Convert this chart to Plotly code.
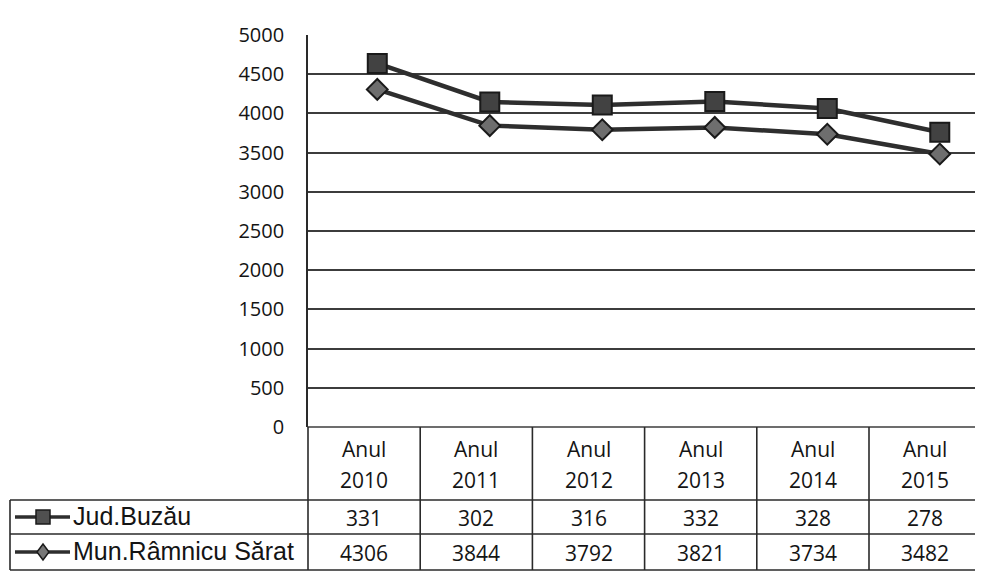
import plotly.graph_objects as go

year_label = "Anul"
years = ["2010", "2011", "2012", "2013", "2014", "2015"]
series_names = ["Jud.Buzău", "Mun.Râmnicu Sărat"]
buzau = [331, 302, 316, 332, 328, 278]
ramnicu = [4306, 3844, 3792, 3821, 3734, 3482]
y_ticks = [0, 500, 1000, 1500, 2000, 2500, 3000, 3500, 4000, 4500, 5000]

OFF = 8                       # page body margin
W, H = 983 - OFF, 578 - OFF   # figure size so it fits the window
# plot area in page coordinates
P_L, P_R, P_T, P_B = 308, 983, 35, 427
L, R, T, B = P_L - OFF, 983 - P_R, P_T - OFF, (578 - P_B)
ph = P_B - P_T
FONT = "Open Sans"
LFONT = "Liberation Sans"
TXT = "#141414"

def py(pix):
    return (P_B - pix) / ph

def px(pix):
    return (pix - P_L) / (P_R - P_L)

n = len(years)
xs = list(range(n))
col_w = 112.2
shift = 13 / col_w

fig = go.Figure()
fig.add_trace(go.Scatter(x=xs, y=ramnicu, stackgroup="s", fill="none", mode="lines+markers",
                         name=series_names[1], line=dict(color="#2e2e2e", width=4.5),
                         marker=dict(symbol="diamond", size=16, color="#6e6e6e",
                                     line=dict(color="#1a1a1a", width=2))))
fig.add_trace(go.Scatter(x=xs, y=buzau, stackgroup="s", fill="none", mode="lines+markers",
                         name=series_names[0], line=dict(color="#2e2e2e", width=4.5),
                         marker=dict(symbol="square", size=19, color="#424242",
                                     line=dict(color="#1a1a1a", width=2))))

shapes = []
annotations = []
rows_y = [500, 534, 570]
line_style = dict(color="#2a2a2a", width=1.6)
# baseline (0 gridline)
shapes.append(dict(type="line", xref="paper", yref="paper", x0=0, x1=1, y0=0, y1=0,
                   line=dict(color="#3c3c3c", width=1.6)))
for i in range(n + 1):
    xpix = P_L + i * col_w
    shapes.append(dict(type="line", xref="paper", yref="paper", x0=px(xpix), x1=px(xpix),
                       y0=0, y1=py(rows_y[2]), line=line_style))
for yy in rows_y:
    shapes.append(dict(type="line", xref="paper", yref="paper", x0=px(10), x1=px(P_L + n * col_w),
                       y0=py(yy), y1=py(yy), line=line_style))
shapes.append(dict(type="line", xref="paper", yref="paper", x0=px(10), x1=px(10),
                   y0=py(rows_y[0]), y1=py(rows_y[2]), line=line_style))

def txt(x, y, s, size=21, family=FONT, xanchor="center"):
    annotations.append(dict(xref="paper", yref="paper", x=x, y=y, text=s, showarrow=False,
                            xanchor=xanchor, yanchor="middle",
                            font=dict(size=size, color=TXT, family=family)))

for i, yr in enumerate(years):
    cx = px(P_L + (i + 0.5) * col_w)
    txt(cx, py(449), year_label)
    txt(cx, py(480), yr)
    txt(cx, py((rows_y[0] + rows_y[1]) / 2 + 1), str(buzau[i]))
    txt(cx, py((rows_y[1] + rows_y[2]) / 2 + 1), str(ramnicu[i]))

for k, (name, sym) in enumerate(zip(series_names, ["square", "diamond"])):
    cy = (rows_y[k] + rows_y[k + 1]) / 2
    shapes.append(dict(type="line", xref="paper", yref="paper", x0=px(15), x1=px(70),
                       y0=py(cy), y1=py(cy), line=dict(color="#2e2e2e", width=3.5)))
    if sym == "square":
        shapes.append(dict(type="rect", xref="paper", yref="paper", x0=px(36), x1=px(50),
                           y0=py(cy + 7), y1=py(cy - 7), fillcolor="#505050",
                           line=dict(color="#1a1a1a", width=1.5)))
    else:
        pth = "M %f %f L %f %f L %f %f L %f %f Z" % (px(43), py(cy - 8), px(49), py(cy),
                                                     px(43), py(cy + 8), px(37), py(cy))
        shapes.append(dict(type="path", xref="paper", yref="paper", path=pth, fillcolor="#777777",
                           line=dict(color="#1a1a1a", width=1.5)))
    txt(px(71), py(cy - 1), name, size=25, family=LFONT, xanchor="left")

fig.update_layout(
    width=W, height=H,
    margin=dict(l=L, r=R, t=T, b=B),
    paper_bgcolor="white", plot_bgcolor="white",
    showlegend=False,
    font=dict(family=FONT, size=20, color=TXT),
    xaxis=dict(range=[-0.5 - shift, n - 0.5 - shift], showticklabels=False, showgrid=False,
               zeroline=False, showline=False, fixedrange=True),
    yaxis=dict(range=[0, 5000], tickvals=y_ticks, showgrid=True, gridcolor="#3c3c3c", gridwidth=1.6,
               zeroline=False, showline=True, linecolor="#2a2a2a", linewidth=1.6,
               tickfont=dict(size=20, color=TXT, family=FONT), ticks="", ticklabelstandoff=18),
    shapes=shapes, annotations=annotations,
)
fig.write_html("out.html")
